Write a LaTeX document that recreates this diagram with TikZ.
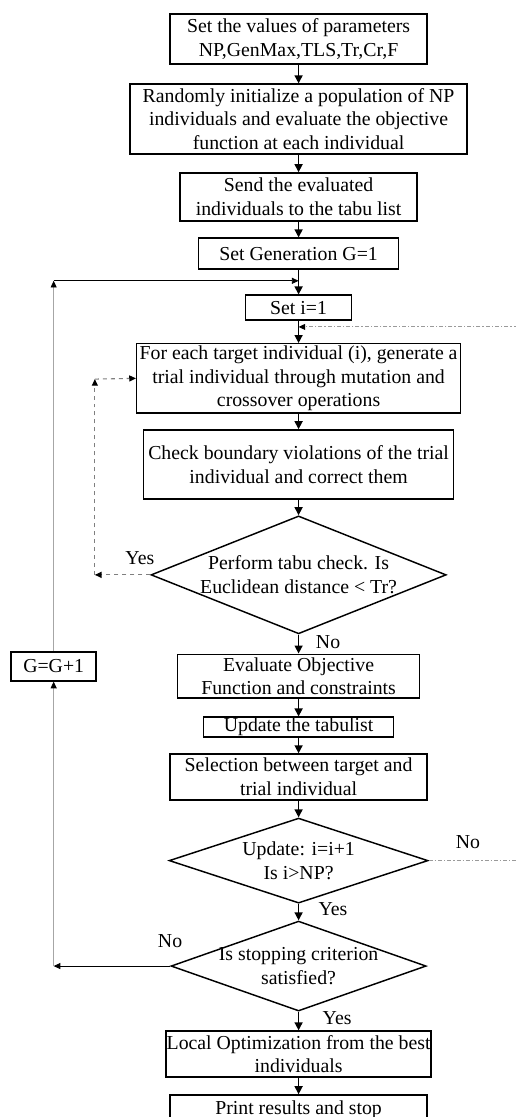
\documentclass[tikz,border=0pt]{standalone}
\usepackage{fontspec}
\setmainfont{Liberation Serif}
\usetikzlibrary{arrows.meta,positioning,calc,shapes.geometric}
\definecolor{Loop}{HTML}{A6A6A6}
\definecolor{Retry}{HTML}{7F7F7F}
\definecolor{Next}{HTML}{9A9A9A}
\newcommand{\flowfont}{\fontsize{14.9pt}{17.9pt}\selectfont}
\tikzset{
  stepbox/.style={draw=black,line width=1.1pt,inner sep=0pt,align=center,font=\flowfont},
  decision/.style={draw=black,line width=1.1pt,diamond,inner sep=-4pt,align=center,font=\flowfont},
  flow/.style={-{Triangle[length=6pt,width=6pt]},line width=1.1pt},
  back/.style={-{Triangle[length=5pt,width=4.5pt,color=black]},line width=.6pt},
  retry/.style={-{Triangle[length=5pt,width=4.5pt,color=black]},draw=Retry,dashed,line width=.8pt},
  nextind/.style={draw=Next,dash pattern=on 3pt off 1.5pt on 1pt off 1.5pt,line width=.7pt},
  tag/.style={font=\flowfont,inner sep=0pt},
}
\begin{document}
\begin{tikzpicture}
  \useasboundingbox[fill=white] (0,0) rectangle (13.652,-29.554);

  % main column
  \node[stepbox,minimum width=6.80cm,minimum height=1.32cm] (params) at (7.9,-1.03) {Set the values of parameters\\NP,GenMax,TLS,Tr,Cr,F};
  \node[stepbox,minimum width=8.92cm,minimum height=1.85cm] (init) at (7.9,-3.15) {Randomly initialize a population of NP\\individuals and evaluate the objective\\function at each individual};
  \node[stepbox,minimum width=6.27cm,minimum height=1.27cm] (sendtabu) at (7.9,-5.21) {Send the evaluated\\individuals to the tabu list};
  \node[stepbox,minimum width=5.29cm,minimum height=0.82cm] (setgen) at (7.9,-6.71) {Set Generation G=1};
  \node[stepbox,minimum width=2.80cm,minimum height=0.66cm] (seti) at (7.9,-8.14) {Set i=1};
  \node[stepbox,minimum width=8.57cm,minimum height=1.83cm] (trial) at (7.9,-10.01) {For each target individual (i), generate a\\trial individual through mutation and\\crossover operations};
  \node[stepbox,minimum width=8.20cm,minimum height=1.83cm] (bound) at (7.9,-12.29) {Check boundary violations of the trial\\individual and correct them};
  \node[decision,aspect=2.5,minimum width=7.81cm,minimum height=3.12cm] (tabuchk) at (7.9,-15.21) {Perform tabu check. Is\\Euclidean distance < Tr?};
  \node[stepbox,minimum width=6.40cm,minimum height=1.16cm] (evalobj) at (7.9,-17.89) {Evaluate Objective\\Function and constraints};
  \node[stepbox,minimum width=5.03cm,minimum height=0.53cm] (updtabu) at (7.9,-19.24) {Update the tabulist};
  \node[stepbox,minimum width=6.80cm,minimum height=1.22cm] (select) at (7.9,-20.56) {Selection between target and\\trial individual};
  \node[decision,aspect=3.05,minimum width=6.85cm,minimum height=2.25cm] (updi) at (7.9,-22.77) {Update: i=i+1\\Is i>NP?};
  \node[decision,aspect=2.83,minimum width=6.75cm,minimum height=2.38cm] (stopchk) at (7.9,-25.56) {Is stopping criterion\\satisfied?};
  \node[stepbox,minimum width=7.01cm,minimum height=1.22cm] (localopt) at (7.9,-27.89) {Local Optimization from the best\\individuals};
  \node[stepbox,minimum width=6.80cm,minimum height=0.80cm] (printres) at (7.9,-29.37) {Print results and stop};

  % generation counter
  \node[stepbox,minimum width=2.25cm,minimum height=0.77cm] (nextgen) at (1.42,-17.63) {G=G+1};

  % branch labels
  \node[tag] (yestabu) at (3.70,-14.76) {Yes};
  \node[tag] (notabu) at (8.68,-16.99) {No};
  \node[tag] (noi) at (12.38,-22.28) {No};
  \node[tag] (yesi) at (8.81,-24.05) {Yes};
  \node[tag] (nostop) at (4.50,-24.90) {No};
  \node[tag] (yesstop) at (8.92,-26.93) {Yes};

  \coordinate (gjoin) at (7.9,-7.43);
  \coordinate (ijoin) at (7.9,-8.65);

  % forward arrows
  \draw[flow] (params) -- (init);
  \draw[flow] (init) -- (sendtabu);
  \draw[flow] (sendtabu) -- (setgen);
  \draw[flow] (setgen) -- (seti);
  \draw[flow] (seti) -- (trial);
  \draw[flow] (trial) -- (bound);
  \draw[flow] (bound) -- (tabuchk);
  \draw[flow] (tabuchk) -- (evalobj);
  \draw[flow] (evalobj) -- (updtabu);
  \draw[flow] (updtabu) -- (select);
  \draw[flow] (select) -- (updi);
  \draw[flow] (updi) -- (stopchk);
  \draw[flow] (stopchk) -- (localopt);
  \draw[flow] (localopt) -- (printres);

  % tabu retry
  \coordinate (rlow) at (2.51,-15.21);
  \coordinate (rhigh) at (2.51,-10.03);
  \draw[retry] (tabuchk.west) -- (rlow);
  \draw[retry] (rlow) -- (rhigh);
  \draw[retry] (rhigh) -- (trial.west);

  % next individual
  \draw[nextind,-{Triangle[length=5pt,width=4.5pt,color=black]}] (updi.east) -- (13.70,-22.77) -- (13.70,-8.65) -- (ijoin);

  % next generation
  \coordinate (glow) at (nextgen.south |- stopchk.west);
  \coordinate (ghigh) at (nextgen.north |- gjoin);
  \draw[back] (stopchk.west) -- (glow);
  \draw[back,draw=Loop] (glow) -- (nextgen.south);
  \draw[back,draw=Loop] (nextgen.north) -- (ghigh);
  \draw[back] (ghigh) -- (gjoin);
\end{tikzpicture}
\end{document}
